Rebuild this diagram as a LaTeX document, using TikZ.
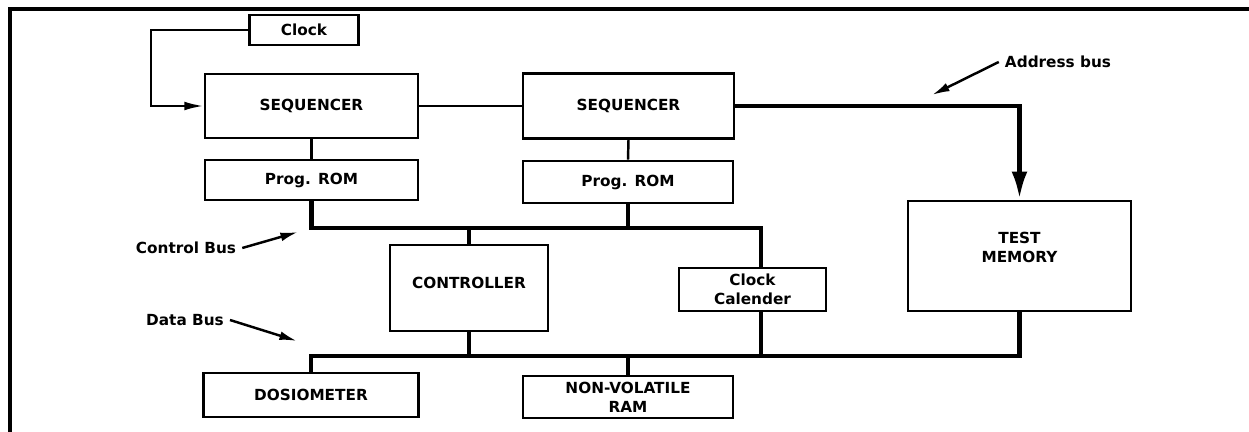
\documentclass[tikz,border=0pt]{standalone}
\usepackage{fontspec}
\setmainfont{DejaVu Sans}
\usetikzlibrary{arrows.meta}

\begin{document}
\begin{tikzpicture}[
        x=0.02cm, y=-0.02cm,
        font=\bfseries\fontsize{8.7}{11}\selectfont,
        box/.style={rectangle, draw, line width=1.5pt, align=center, inner sep=0pt},
        wire/.style={line width=1.4pt},
        bus/.style={line width=2.8pt},
        arrow/.style={-{Latex[length=11pt, width=5pt]}, line width=1.4pt},
        pointer/.style={-{Latex[length=10pt, width=5pt]}, line width=1.4pt}
    ]
        \useasboundingbox (0,0) rectangle (1249,432);
        \draw[line width=1.8pt] (10,432) -- (10,9) -- (1249,9);

        \node[box, minimum width=2.18cm, minimum height=0.6cm] (clock) at (304,30) {Clock};
        \node[box, minimum width=4.26cm, minimum height=1.28cm] (seqA) at (311.5,106) {SEQUENCER};
        \node[box, minimum width=4.22cm, minimum height=1.3cm] (seqB) at (628.5,106) {SEQUENCER};
        \node[box, minimum width=4.26cm, minimum height=0.8cm] (romA) at (311.5,180) {Prog. ROM};
        \node[box, minimum width=4.2cm, minimum height=0.84cm] (romB) at (628,182) {Prog. ROM};
        \node[box, minimum width=4.46cm, minimum height=2.2cm,
              label={[yshift=0.17cm, align=center]center:TEST\\MEMORY}] (testmem) at (1019.5,256) {};
        \node[box, minimum width=3.16cm, minimum height=1.72cm,
              label={[yshift=0.1cm]center:CONTROLLER}] (ctrl) at (469,288) {};
        \node[box, minimum width=2.94cm, minimum height=0.86cm] (clkcal) at (752.5,289.5) {Clock\\Calender};
        \node[box, minimum width=4.3cm, minimum height=0.88cm] (dosi) at (311,395) {DOSIOMETER};
        \node[box, minimum width=4.2cm, minimum height=0.84cm] (nvram) at (628,397) {NON-VOLATILE\\RAM};

        % bus labels
        \node (addrlbl) at (1058,62) {Address bus};
        \node (ctrllbl) at (186,248) {Control Bus};
        \node (datalbl) at (185,320) {Data Bus};

        \coordinate (addrtip) at (932,95);
        \coordinate (ctrltip) at (298,232);
        \coordinate (datatip) at (297,341);
        \coordinate (clkbend) at (151,30);
        \coordinate (cbus) at (311.5,228);
        \coordinate (cbusend) at (761,228);
        \coordinate (dbus) at (311,356);

        \draw[arrow] (clock.west) -- (clkbend) |- (seqA.west);
        \draw[wire] (seqA.east) -- (seqB.west);
        \draw[wire] (seqA.south) -- (romA.north);
        \draw[wire] (seqB.south) -- (romB.north);
        \draw[bus, -{Latex[length=16pt, width=9pt]}] (seqB.east) -| (testmem.north);

        % control bus
        \draw[bus] (romA.south) -- (cbus) -- (cbusend) -- (cbusend |- clkcal.north);
        \draw[bus] (romB.south) -- (romB.south |- cbus);
        \draw[bus] (ctrl.north) -- (ctrl.north |- cbus);

        % data bus
        \draw[bus] (dosi.north) -- (dbus) -| (testmem.south);
        \draw[bus] (ctrl.south) -- (ctrl.south |- dbus);
        \draw[bus] (nvram.north) -- (nvram.north |- dbus);
        \draw[bus] (clkcal.south -| cbusend) -- (cbusend |- dbus);

        \draw[pointer] (addrlbl.west) -- (addrtip);
        \draw[pointer] (ctrllbl.east) -- (ctrltip);
        \draw[pointer] (datalbl.east) -- (datatip);
    \end{tikzpicture}
\end{document}
